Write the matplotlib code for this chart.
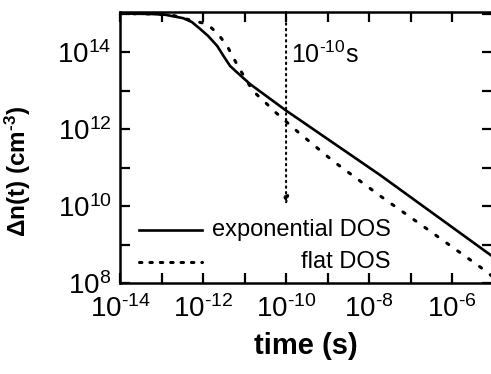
import numpy as np
import matplotlib
matplotlib.use('Agg')
import matplotlib.pyplot as plt
from matplotlib.ticker import FixedLocator, FuncFormatter, NullLocator
from matplotlib.lines import Line2D

plt.rcParams['font.family'] = ['Liberation Sans', 'DejaVu Sans']
plt.rcParams['mathtext.fontset'] = 'custom'
plt.rcParams['mathtext.rm'] = 'Liberation Sans'
plt.rcParams['mathtext.bf'] = 'Liberation Sans:bold'
plt.rcParams['mathtext.default'] = 'regular'
plt.rcParams['axes.unicode_minus'] = False

HY = '\u2010'  # short hyphen, like the original's exponents

# ── data (log10 values) ──────────────────────────────────────────────────
exp_logt = [-14.0, -13.28, -12.92, -12.48, -12.27, -12.07, -11.88, -11.66,
            -11.49, -11.35, -11.20, -10.87, -10.0, -7.73, -5.04]
exp_logn = [15.0, 14.99, 14.97, 14.88, 14.78, 14.60, 14.42, 14.16,
            13.87, 13.64, 13.49, 13.17, 12.48, 10.80, 8.70]

flat_logt = [-14.0, -13.28, -12.75, -12.24, -11.90, -11.64, -11.42, -11.28, -11.13,
             -10.80, -10.51, -10.24, -9.71, -8.87, -7.73, -6.60, -5.33, -5.04]
flat_logn = [15.0, 14.99, 14.96, 14.81, 14.73, 14.47, 14.16, 13.87, 13.58,
             12.99, 12.70, 12.42, 11.92, 11.17, 10.26, 9.40, 8.42, 8.18]

marker_t = 1e-10
marker_label = r'$10^{%s10}$s' % HY
legend_labels = ['exponential DOS', 'flat DOS']

x_decades = list(range(-14, -4))
y_decades = list(range(8, 16))

# ── figure ───────────────────────────────────────────────────────────────
fig = plt.figure(figsize=(4.91, 3.74), dpi=100)
ax = fig.add_axes([120/491, 1 - 283/374, 372/491, 271/374])

ax.plot(10**np.array(exp_logt), 10**np.array(exp_logn), color='black', lw=1.9,
        solid_joinstyle='round')
ax.plot(10**np.array(flat_logt), 10**np.array(flat_logn), color='black', lw=2.2,
        linestyle=(0, (0.8, 3.6)), dash_capstyle='round')

ax.set_xscale('log')
ax.set_yscale('log')
ax.set_xlim(1e-14, 10**-5.04)
ax.set_ylim(1e8, 10**15.04)

# arrow at 1e-10 s
ax.annotate('', xy=(marker_t, 1.0e10), xytext=(marker_t, 10**15.04),
            arrowprops=dict(arrowstyle='-|>,head_length=0.5,head_width=0.15',
                            color='black', lw=1.5, linestyle=(0, (0.7, 2.0)),
                            shrinkA=0, shrinkB=0))
ax.text(1.3e-10, 10**13.92, marker_label, fontsize=18, ha='left', va='center')

# ticks
ax.xaxis.set_major_locator(FixedLocator([10.0**e for e in x_decades]))
ax.yaxis.set_major_locator(FixedLocator([10.0**e for e in y_decades]))
ax.xaxis.set_minor_locator(NullLocator())
ax.yaxis.set_minor_locator(NullLocator())

def fmt(v, pos):
    e = int(round(np.log10(v)))
    if e % 2:
        return ''
    s = str(e).replace('-', HY)
    return r'$10^{%s}$' % s

ax.xaxis.set_major_formatter(FuncFormatter(fmt))
ax.yaxis.set_major_formatter(FuncFormatter(fmt))
ax.tick_params(which='both', direction='in', top=True, right=True,
               length=7, width=1.6, labelsize=20)
ax.tick_params(axis='x', pad=9)
ax.tick_params(axis='y', pad=6)
for s in ax.spines.values():
    s.set_linewidth(1.8)

ax.set_xlabel('time (s)', fontsize=21, fontweight='bold', labelpad=6)
ax.set_ylabel(r'$\Delta$n(t) (cm$^{%s3}$)' % HY, fontsize=17.5, fontweight='bold')
ax.yaxis.set_label_coords(-0.235, 0.41)

# legend drawn by hand (right-aligned labels)
tr = ax.transAxes
ax.add_line(Line2D([0.05, 0.22], [0.195, 0.195], transform=tr, color='black', lw=1.9))
ax.add_line(Line2D([0.05, 0.22], [0.078, 0.078], transform=tr, color='black', lw=2.2,
                   linestyle=(0, (0.8, 2.6)), dash_capstyle='round'))
ax.text(0.727, 0.195, legend_labels[0], transform=tr, fontsize=17,
        ha='right', va='center')
ax.text(0.727, 0.078, legend_labels[1], transform=tr, fontsize=17,
        ha='right', va='center')

fig.savefig('out.png', dpi=100)
